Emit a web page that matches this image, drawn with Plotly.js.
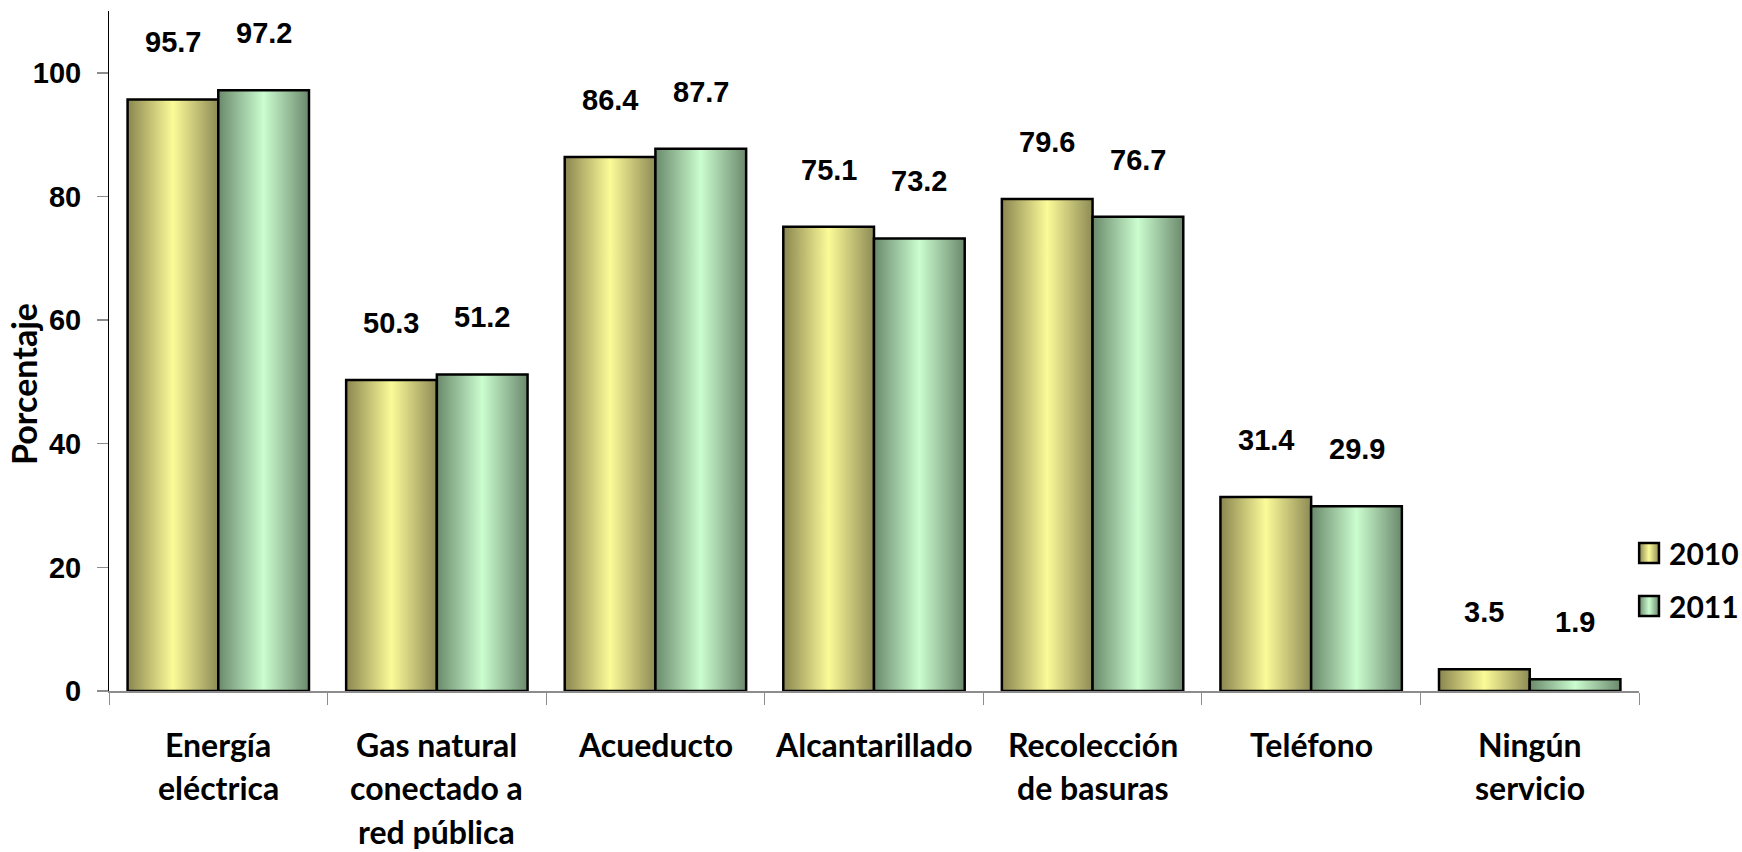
<!DOCTYPE html>
<html>
<head>
<meta charset="utf-8">
<script src="https://cdn.plot.ly/plotly-3.0.1.min.js"></script>
<style>
  html, body { margin: 0; padding: 0; background: #fff; }
  #chart { width: 1742px; height: 852px; }
  path[style*="fill: rgb(240, 240, 140)"] { fill: url(#g2010) !important; }
  path[style*="fill: rgb(170, 230, 175)"] { fill: url(#g2011) !important; }
  .legend .legendpoints path { transform: translate(20px, 0px) scale(1.65); vector-effect: non-scaling-stroke; }
</style>
</head>
<body>
<svg width="0" height="0" style="position:absolute">
  <defs>
    <linearGradient id="g2010" x1="0" y1="0" x2="1" y2="0">
      <stop offset="0" stop-color="#8a8650"/>
      <stop offset="0.5" stop-color="#fcfb98"/>
      <stop offset="1" stop-color="#8e8b56"/>
    </linearGradient>
    <linearGradient id="g2011" x1="0" y1="0" x2="1" y2="0">
      <stop offset="0" stop-color="#6a8a6b"/>
      <stop offset="0.5" stop-color="#cbfdd0"/>
      <stop offset="1" stop-color="#6b896c"/>
    </linearGradient>
  </defs>
</svg>
<div id="chart"></div>
<script>
const categories = [
  "Energía<br>eléctrica",
  "Gas natural<br>conectado a<br>red pública",
  "Acueducto",
  "Alcantarillado",
  "Recolección<br>de basuras",
  "Teléfono",
  "Ningún<br>servicio"
];
const seriesNames = ["2010", "2011"];
const values2010 = [95.7, 50.3, 86.4, 75.1, 79.6, 31.4, 3.5];
const values2011 = [97.2, 51.2, 87.7, 73.2, 76.7, 29.9, 1.9];
const yTickVals = [0, 20, 40, 60, 80, 100];

const seriesValues = [values2010, values2011];
const seriesColors = ["rgb(240, 240, 140)", "rgb(170, 230, 175)"];

const traces = seriesValues.map((vals, k) => ({
  type: "bar",
  name: seriesNames[k],
  legendgroup: seriesNames[k],
  x: categories,
  y: vals,
  marker: { color: seriesColors[k], line: { color: "#000", width: 2.5 } },
  hoverinfo: "x+y"
}));

const annotations = [];
seriesValues.forEach((vals, k) => {
  vals.forEach((v, i) => {
    annotations.push({
      x: categories[i], y: v, xref: "x", yref: "y",
      text: v.toFixed(1), showarrow: false,
      xshift: k === 0 ? -45.4 : 45.4, yshift: 57,
      yanchor: "middle", xanchor: "center",
      font: { family: "Liberation Sans, Arial, sans-serif", size: 29, color: "#000", weight: "bold" }
    });
  });
});
// category labels, one annotation per line (wider line spacing than tick labels allow)
categories.forEach((c, i) => {
  c.split("<br>").forEach((line, j) => {
    annotations.push({
      x: c, y: 0, xref: "x", yref: "paper",
      text: line, showarrow: false,
      xanchor: "center", yanchor: "middle",
      yshift: -(53 + j * 43.5),
      font: { family: "Lato, sans-serif", size: 32, color: "#000", weight: "bold" }
    });
  });
});
annotations.push({
  text: "Porcentaje", xref: "paper", yref: "paper",
  x: -0.0556, y: 0.4515, textangle: -90, showarrow: false,
  xanchor: "center", yanchor: "middle",
  font: { family: "Lato, sans-serif", size: 34, color: "#000", weight: "bold" }
});

const layout = {
  width: 1742, height: 852,
  margin: { l: 109, r: 103, t: 11, b: 161, pad: 0, autoexpand: false },
  paper_bgcolor: "#fff", plot_bgcolor: "#fff",
  barmode: "group", bargap: 0.17, bargroupgap: 0,
  showlegend: true,
  legend: {
    x: 0.9935, xanchor: "left", y: 0.164, yanchor: "middle",
    traceorder: "grouped", tracegroupgap: 11,
    font: { family: "Lato, sans-serif", size: 30, color: "#000", weight: "bold" },
    bgcolor: "rgba(0,0,0,0)", borderwidth: 0
  },
  xaxis: {
    type: "category",
    showline: true, linecolor: "#8c8c8c", linewidth: 1.5,
    ticks: "outside", tickson: "boundaries", ticklen: 12, tickcolor: "#8c8c8c", tickwidth: 1,
    showgrid: false, zeroline: false,
    showticklabels: false
  },
  yaxis: {
    range: [0, 110],
    tickvals: yTickVals, ticktext: yTickVals.map(String),
    showline: true, linecolor: "#000", linewidth: 1,
    ticks: "outside", ticklen: 11, tickcolor: "#8c8c8c", tickwidth: 1.5,
    showgrid: false, zeroline: false,
    tickfont: { family: "Liberation Sans, Arial, sans-serif", size: 29, color: "#000", weight: "bold" },
    ticklabelstandoff: 10
  },
  annotations: annotations
};

Plotly.newPlot("chart", traces, layout, { displayModeBar: false, staticPlot: true });
</script>
</body>
</html>
